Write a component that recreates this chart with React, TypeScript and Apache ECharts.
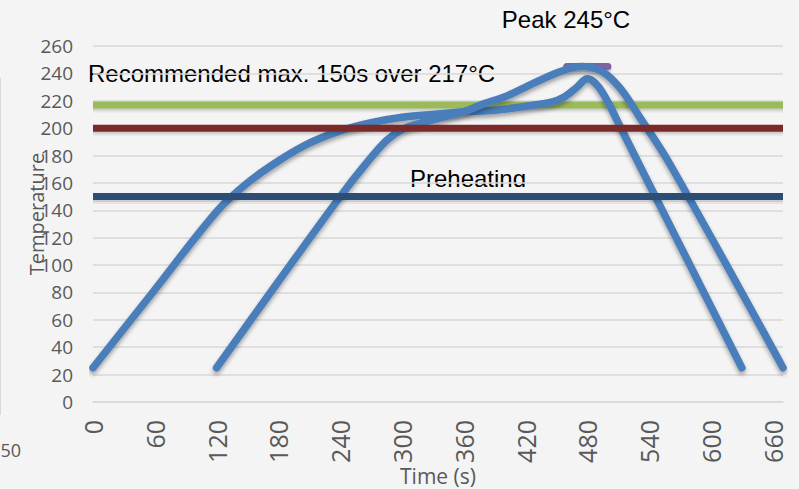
import React, { useEffect, useRef } from "react";
import * as echarts from "echarts";

// ---- data ----
const X_MIN = 0;
const X_MAX = 670;
const X_STEP = 60;
const Y_MIN = 0;
const Y_MAX = 260;
const Y_STEP = 20;

const curveATime = [0, 60, 120, 150, 180, 210, 240, 270, 300, 330, 360, 390, 420, 445, 458, 470, 480, 490, 500, 512, 530, 630];
const curveATemp = [25, 82, 139, 160, 176, 189, 198, 204, 208, 210, 212, 213, 216, 219, 223, 230, 236, 231, 219, 201, 174, 25];

const curveBTime = [120, 180, 240, 265, 285, 300, 320, 340, 360, 380, 400, 420, 446, 465, 476, 495, 512, 530, 560, 670];
const curveBTemp = [25, 88, 150, 174, 191, 199, 204, 208, 212, 218, 223, 230, 239, 244, 245, 241, 229, 209, 174, 25];

const liquidusTemp = 217;
const soakTemp = 200;
const preheatTemp = 150;
const peakTemp = 245;
const peakWindow = [460, 500];

const titleTime = "Time (s)";
const titleTemp = "Temperature";
const notePeak = "Peak 245°C";
const noteRecommended = "Recommended max. 150s over 217°C";
const notePreheat = "Preheating";
const cutLabel = "50";

// ---- layout / style ----
const W = 799;
const H = 489;
const GRID = { left: 93, right: 16, top: 46, bottom: 87 };
const UNIT_PER_PX = (Y_MAX - Y_MIN) / (H - GRID.top - GRID.bottom);
const BG = "#f4f4f4";
const curveShadow = { shadowColor: "rgba(0,0,0,0.35)", shadowBlur: 4, shadowOffsetY: 3 };

function hLine(name: string, y: number, x0: number, x1: number, color: string, extra: any = {}) {
  return {
    name,
    type: "line",
    data: [[x0, y], [x1, y]],
    showSymbol: false,
    silent: true,
    lineStyle: { color, width: 7, ...extra },
  };
}

// soft drop shadow under a horizontal rule (SVG filters vanish on zero-height paths)
function hShadow(name: string, y: number, x0: number, x1: number, offPx: number, width: number, alpha: number, extra: any = {}) {
  return {
    name,
    type: "line",
    data: [[x0, y - offPx * UNIT_PER_PX], [x1, y - offPx * UNIT_PER_PX]],
    showSymbol: false,
    silent: true,
    lineStyle: { color: `rgba(0,0,0,${alpha})`, width, ...extra },
  };
}

function shadowPair(name: string, y: number, x0: number, x1: number, extra: any = {}) {
  return [
    hShadow(name + "-s1", y, x0, x1, 3, 9, 0.06, extra),
    hShadow(name + "-s2", y, x0, x1, 2.5, 6, 0.1, extra),
  ];
}

function curve(name: string, t: number[], v: number[]) {
  return {
    name,
    type: "line",
    data: t.map((x, i) => [x, v[i]]),
    showSymbol: false,
    smooth: 0.35,
    silent: true,
    lineStyle: { color: "#4a7ebb", width: 7.5, cap: "round", join: "round", ...curveShadow },
  };
}

export default function App() {
  const ref = useRef<HTMLDivElement>(null);
  useEffect(() => {
    if (!ref.current) return;
    const chart = echarts.init(ref.current, null, { renderer: "svg" });
    const labelFont = "'Open Sans', 'Noto Sans', sans-serif";
    const noteFont = "'Liberation Sans', Arial, sans-serif";
    chart.setOption({
      animation: false,
      backgroundColor: BG,
      grid: { ...GRID, containLabel: false },
      xAxis: {
        type: "value",
        min: X_MIN,
        max: X_MAX,
        interval: X_STEP,
        axisLine: { show: true, lineStyle: { color: "#d9d9d9", width: 1.5 } },
        axisTick: { show: false },
        splitLine: { show: false },
        axisLabel: {
          rotate: 90,
          margin: 18,
          showMaxLabel: false,
          color: "#595959",
          fontSize: 25,
          fontFamily: labelFont,
        },
      },
      yAxis: {
        type: "value",
        min: Y_MIN,
        max: Y_MAX,
        interval: Y_STEP,
        axisLine: { show: false },
        axisTick: { show: false },
        splitLine: { show: true, lineStyle: { color: "#d9d9d9", width: 1.5 } },
        axisLabel: {
          margin: 20,
          color: "#595959",
          fontSize: 19,
          fontFamily: labelFont,
        },
      },
      series: [
        ...shadowPair("liquidus", liquidusTemp, X_MIN, X_MAX),
        hLine("liquidus", liquidusTemp, X_MIN, X_MAX, "#9bbb59"),
        ...shadowPair("peak", peakTemp, peakWindow[0], peakWindow[1], { cap: "round" }),
        hLine("peak", peakTemp, peakWindow[0], peakWindow[1], "#8064a2", { cap: "round" }),
        curve("profile A", curveATime, curveATemp),
        curve("profile B", curveBTime, curveBTemp),
        ...shadowPair("soak", soakTemp, X_MIN, X_MAX),
        hLine("soak", soakTemp, X_MIN, X_MAX, "#7a2b29"),
        ...shadowPair("preheat", preheatTemp, X_MIN, X_MAX),
        hLine("preheat", preheatTemp, X_MIN, X_MAX, "#2c4d75"),
      ],
      graphic: [
        {
          type: "line",
          shape: { x1: 0.5, y1: 78, x2: 0.5, y2: 415 },
          style: { stroke: "#d9d9d9", lineWidth: 1 },
        },
        {
          type: "text",
          x: 21,
          y: 450,
          style: { text: cutLabel, align: "right", verticalAlign: "middle", fill: "#595959", fontSize: 18, fontFamily: labelFont },
        },
        {
          type: "text",
          x: 36,
          y: 214,
          rotation: Math.PI / 2,
          style: { text: titleTemp, align: "center", verticalAlign: "middle", fill: "#595959", fontSize: 20, fontFamily: labelFont },
        },
        {
          type: "text",
          x: 438,
          y: 476,
          style: { text: titleTime, align: "center", verticalAlign: "middle", fill: "#595959", fontSize: 21, fontFamily: labelFont },
        },
        {
          type: "text",
          x: 566,
          y: 19,
          style: { text: notePeak, align: "center", verticalAlign: "middle", fill: "#000", fontSize: 24, fontFamily: noteFont },
        },
        {
          type: "text",
          x: 88,
          y: 73,
          style: { text: noteRecommended, align: "left", verticalAlign: "middle", fill: "#000", fontSize: 24, fontFamily: noteFont },
        },
        {
          type: "text",
          x: 468,
          y: 178,
          style: { text: notePreheat, align: "center", verticalAlign: "middle", fill: "#000", fontSize: 24, fontFamily: noteFont },
        },
        {
          type: "rect",
          shape: { x: 400, y: 187, width: 140, height: 5 },
          style: { fill: BG },
        },
      ],
    });
    return () => chart.dispose();
  }, []);
  return <div ref={ref} style={{ position: "fixed", left: 0, top: 0, width: W, height: H }} />;
}
